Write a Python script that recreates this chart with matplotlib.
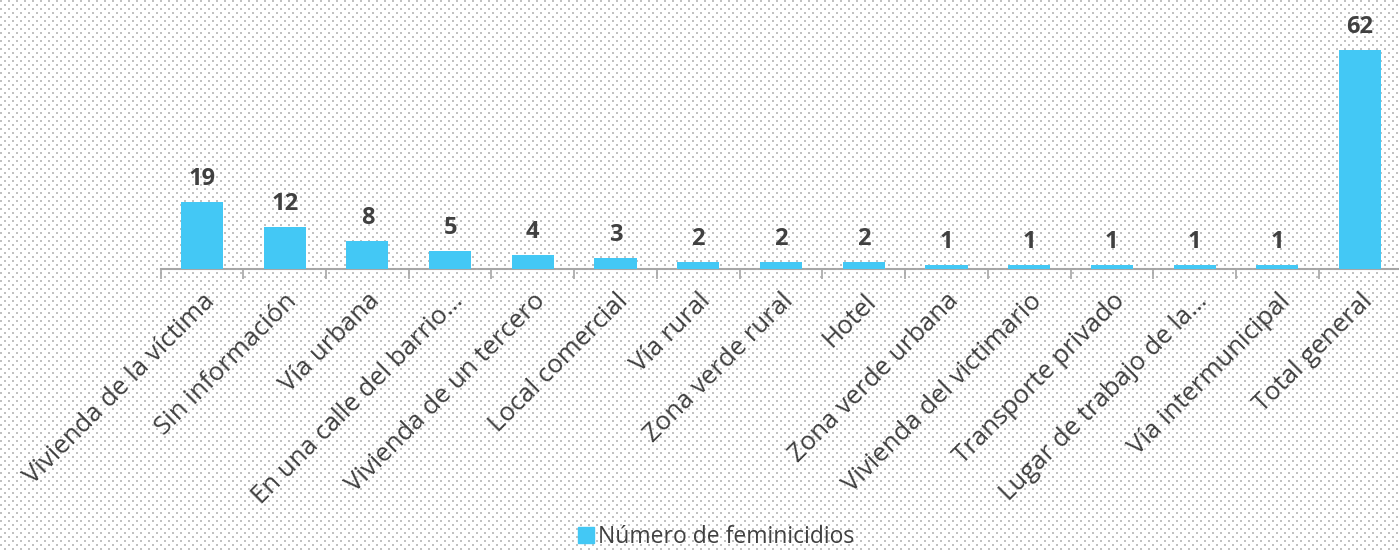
import numpy as np
import matplotlib
matplotlib.use("Agg")
import matplotlib.pyplot as plt
from matplotlib.patches import Patch

categorias = ["Vivienda de la víctima", "Sin información", "Vía urbana",
              "En una calle del barrio…", "Vivienda de un tercero", "Local comercial",
              "Vía rural", "Zona verde rural", "Hotel", "Zona verde urbana",
              "Vivienda del victimario", "Transporte privado", "Lugar de trabajo de la…",
              "Vía intermunicipal", "Total general"]
feminicidios = [19, 12, 8, 5, 4, 3, 2, 2, 2, 1, 1, 1, 1, 1, 62]

W, H = 1399, 552
color_barra = "#43C8F5"
gris_texto = "#404040"

plt.rcParams["font.family"] = ["Open Sans", "DejaVu Sans"]

fig = plt.figure(figsize=(W / 100, H / 100), dpi=100)

# fondo punteado (trama 5%)
fondo = np.ones((H, W, 3))
for y in range(0, H, 4):
    off = 0 if (y // 4) % 2 == 0 else 4
    for x in range(off, W, 8):
        fondo[y:y + 2, x:x + 2] = 0.76
fig.figimage(fondo, xo=0, yo=0, zorder=-5)

x0 = 160.6 / W
ancho = 1240.8 / W
base = (H - 269) / H
ax = fig.add_axes([x0, base, ancho, 1 - base])
ax.set_zorder(2)
ax.patch.set_alpha(0)

pos = np.arange(len(categorias))
ax.bar(pos, feminicidios, width=0.51, color=color_barra, zorder=3)
ax.set_xlim(-0.5, len(categorias) - 0.5)
ax.set_ylim(0, 76.2)

for p, v in zip(pos, feminicidios):
    ax.annotate(str(v), (p, v), xytext=(0, 8), textcoords="offset points",
                ha="center", va="bottom", fontsize=17, fontweight="bold",
                color=gris_texto)

for s in ["top", "left", "right"]:
    ax.spines[s].set_visible(False)
ax.spines["bottom"].set_color("#A6A6A6")
ax.spines["bottom"].set_linewidth(1.5)
ax.spines["bottom"].set_clip_on(False)
ax.set_yticks([])

ax.set_xticks(np.arange(-0.5, len(categorias), 1.0))
ax.set_xticklabels([])
ax.tick_params(axis="x", which="major", length=7, width=1.2, color="#A6A6A6")
ax.set_xticks(pos, minor=True)
ax.set_xticklabels(categorias, minor=True, rotation=45, ha="right",
                   rotation_mode="anchor", fontsize=18.5, color=gris_texto)
ax.tick_params(axis="x", which="minor", length=0, pad=14)

leg = fig.legend(handles=[Patch(color=color_barra, label="Número de feminicidios")],
                 loc="lower center", bbox_to_anchor=(0.512, -0.032), frameon=False,
                 prop={"size": 16.5}, labelcolor=gris_texto,
                 handlelength=0.7, handleheight=0.7, handletextpad=0.2)
leg.set_zorder(3)

fig.savefig("out.png", dpi=100)
